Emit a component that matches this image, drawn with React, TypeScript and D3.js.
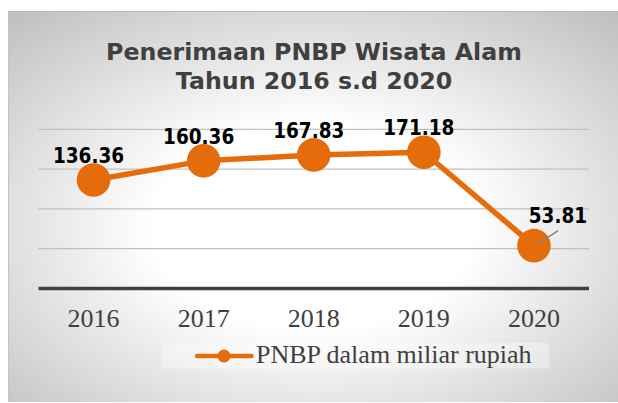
import React from "react";
import * as d3 from "d3";

const years = ["2016", "2017", "2018", "2019", "2020"];
const values = [136.36, 160.36, 167.83, 171.18, 53.81];
const yTicks = [0, 50, 100, 150, 200];
const titleLines = ["Penerimaan PNBP Wisata Alam", "Tahun 2016 s.d 2020"];
const seriesName = "PNBP dalam miliar rupiah";

const W = 618;
const H = 403;
const ORANGE = "#E46C0A";

export default function App() {
  const x = d3.scaleBand<string>().domain(years).range([38.5, 589]);
  const y = d3.scaleLinear().domain([0, 200]).range([288.5, 129.3]);
  const cx = (d: string) => (x(d) as number) + x.bandwidth() / 2;
  const line = d3
    .line<number>()
    .x((_, i) => cx(years[i]))
    .y((v) => y(v));

  return (
    <svg
      width={W}
      height={H}
      style={{ position: "absolute", left: 0, top: 0, display: "block" }}
    >
      <defs>
        <radialGradient id="bg" cx="50%" cy="55%" r="75%">
          <stop offset="0%" stopColor="#ffffff" />
          <stop offset="35%" stopColor="#ffffff" />
          <stop offset="100%" stopColor="#bdbdbd" />
        </radialGradient>
      </defs>
      <rect x={0} y={0} width={W} height={H} fill="#ffffff" />
      <rect x={8} y={11} width={W - 8} height={391} fill="url(#bg)" />
      <line x1={8} x2={W} y1={11.5} y2={11.5} stroke="#b8b8b8" strokeWidth={1} />
      <line x1={8.5} x2={8.5} y1={11} y2={402} stroke="#c4c4c4" strokeWidth={1} />

      {/* title */}
      {titleLines.map((t, i) => (
        <text
          key={t}
          x={314}
          y={60 + i * 29.3}
          textAnchor="middle"
          fontFamily="DejaVu Sans"
          fontWeight="bold"
          fontSize={23.7}
          fill="#404040"
        >
          {t}
        </text>
      ))}

      {/* gridlines */}
      {yTicks
        .filter((t) => t > 0)
        .map((t) => (
          <line
            key={t}
            x1={38.5}
            x2={589}
            y1={y(t)}
            y2={y(t)}
            stroke="#c0c0c0"
            strokeWidth={1.3}
          />
        ))}
      <line x1={38.5} x2={589} y1={y(0)} y2={y(0)} stroke="#404040" strokeWidth={3.5} />

      {/* x labels */}
      {years.map((yr) => (
        <text
          key={yr}
          x={cx(yr)}
          y={326.7}
          textAnchor="middle"
          fontFamily="Liberation Serif"
          fontSize={26}
          fill="#404040"
        >
          {yr}
        </text>
      ))}

      {/* series */}
      <path d={line(values) as string} fill="none" stroke={ORANGE} strokeWidth={5.5} strokeLinejoin="round" />
      {values.map((v, i) => (
        <circle key={i} cx={cx(years[i])} cy={y(v)} r={16.8} fill={ORANGE} />
      ))}

      {/* data labels */}
      {values.map((v, i) => {
        const px = cx(years[i]);
        const py = y(v);
        const last = i === values.length - 1;
        return (
          <g key={"l" + i}>
            {last && (
              <line x1={px + 3} y1={py - 1} x2={px + 24} y2={py - 15} stroke="#808080" strokeWidth={1.5} />
            )}
            <text
              x={last ? px + 24 : px - 5}
              y={last ? py - 23 : py - 17}
              textAnchor="middle"
              fontFamily="DejaVu Sans Condensed, DejaVu Sans"
              fontStretch="condensed"
              fontWeight="bold"
              fontSize={20.5}
              fill="#000000"
            >
              {v.toFixed(2)}
            </text>
          </g>
        );
      })}

      {/* legend */}
      <rect x={162} y={343} width={387} height={25.5} fill="#ffffff" fillOpacity={0.35} />
      <line x1={197} x2={251.5} y1={356} y2={356} stroke={ORANGE} strokeWidth={4.5} strokeLinecap="round" />
      <circle cx={224} cy={356} r={6.5} fill={ORANGE} />
      <text x={256} y={363.3} fontFamily="Liberation Serif" fontSize={26} fill="#404040">
        {seriesName}
      </text>
    </svg>
  );
}
